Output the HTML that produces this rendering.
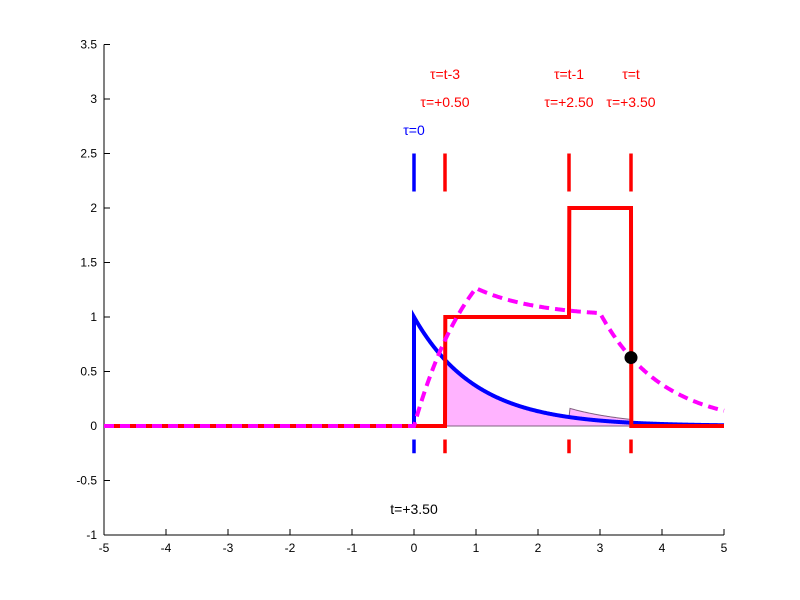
<!DOCTYPE html>
<html><head><meta charset="utf-8"><style>
body{margin:0;background:#fff}
svg{display:block;font-family:"Liberation Sans",sans-serif}
</style></head><body>
<svg id="chart" width="800" height="600" viewBox="0 0 800 600"></svg>
<script>
// data
const inputBreaks=[0,1,3];      // x(t) segment boundaries
const inputLevels=[2,1];        // x(t) values on each segment
const decayRate=[1];            // h(t)=exp(-a t), t>=0
const tNow=[3.5];
const xTicks=[-5,-4,-3,-2,-1,0,1,2,3,4,5];
const yTicks=[-1,-0.5,0,0.5,1,1.5,2,2.5,3,3.5];

const svg=document.getElementById('chart');
const NS='http://www.w3.org/2000/svg';
const X=v=>104+(v+5)*62, Y=v=>426-v*109;
function mk(tag,attrs,name){const e=document.createElementNS(NS,tag);for(const k in attrs)e.setAttribute(k,attrs[k]);


svg.appendChild(e);return e;}
const a=decayRate[0], t=tNow[0];
const h=v=>v<0?0:Math.exp(-a*v);
function xs(v){for(let i=0;i<inputLevels.length;i++)if(v>=inputBreaks[i]&&v<inputBreaks[i+1])return inputLevels[i];return 0;}
function conv(tt){let s=0,n=2000;if(tt<=0)return 0;const d=tt/n;for(let i=0;i<n;i++){const u=(i+0.5)*d;s+=h(u)*xs(tt-u)*d;}return s;}
const N=600;
// shaded product
let p='M'+X(-5)+','+Y(0);
for(let i=0;i<=N;i++){const u=-5+10*i/N;p+=' L'+X(u).toFixed(2)+','+Y(h(u)*xs(t-u)).toFixed(2);}
p+=' L'+X(5)+','+Y(0)+'Z';
mk('path',{d:p,fill:'#ffb3ff',stroke:'#806080','stroke-width':1},'product-area');
// axes
mk('line',{x1:104,y1:Y(-1),x2:104,y2:Y(3.5),stroke:'#000'},'y-axis');
mk('line',{x1:104,y1:Y(-1),x2:724,y2:Y(-1),stroke:'#000'},'x-axis');
xTicks.forEach(v=>{mk('line',{x1:X(v),y1:Y(-1),x2:X(v),y2:Y(-1)-6,stroke:'#000'},'x-tick');
const tx=mk('text',{x:X(v),y:Y(-1)+17,'text-anchor':'middle','font-size':12},'x-tick-label');tx.textContent=v;});
yTicks.forEach(v=>{mk('line',{x1:104,y1:Y(v),x2:110,y2:Y(v),stroke:'#000'},'y-tick');
const tx=mk('text',{x:97,y:Y(v)+4,'text-anchor':'end','font-size':12},'y-tick-label');tx.textContent=v;});
// markers
mk('line',{x1:X(0),y1:Y(2.5),x2:X(0),y2:Y(-0.25),stroke:'#00f','stroke-width':3.5,'stroke-dasharray':'38 248 14'},'tau-zero-marker');
[t-3,t-1,t].forEach(v=>mk('line',{x1:X(v),y1:Y(2.5),x2:X(v),y2:Y(-0.25),stroke:'#f00','stroke-width':3.5,'stroke-dasharray':'38 248 14'},'tau-marker'));
// h
let hp='M'+X(-5)+','+Y(0)+' L'+X(0)+','+Y(0);
for(let i=0;i<=N;i++){const u=5*i/N;hp+=' L'+X(u).toFixed(2)+','+Y(h(u)).toFixed(2);}
mk('path',{d:hp,fill:'none',stroke:'#00f','stroke-width':4},'impulse-response');
// flipped input
let r='';for(let i=0;i<=2000;i++){const u=-5+10*i/2000;r+=(i?' L':'M')+X(u).toFixed(2)+','+Y(xs(t-u)).toFixed(2);}
mk('path',{d:r,fill:'none',stroke:'#f00','stroke-width':4},'flipped-input');
// convolution output (drawn on top)
let c='';for(let i=0;i<=N;i++){const u=-5+10*i/N;c+=(i?' L':'M')+X(u).toFixed(2)+','+Y(conv(u)).toFixed(2);}
mk('path',{d:c,fill:'none',stroke:'#f0f','stroke-width':4,'stroke-dasharray':'10 6'},'output-curve');
mk('circle',{cx:X(t),cy:Y(conv(t)),r:6.5,fill:'#000'},'output-point');
function lab(x,y,s,col,name){const e=mk('text',{x:x,y:y,'text-anchor':'middle','font-size':14,fill:col},name);e.textContent=s;}
lab(X(0),135,'τ=0','#00f','tau-zero-label');
lab(X(t-3),79,'τ=t-3','#f00','tau-label');lab(X(t-3),107,'τ=+'+(t-3).toFixed(2),'#f00','tau-value');
lab(X(t-1),79,'τ=t-1','#f00','tau-label');lab(X(t-1),107,'τ=+'+(t-1).toFixed(2),'#f00','tau-value');
lab(X(t),79,'τ=t','#f00','tau-label');lab(X(t),107,'τ=+'+t.toFixed(2),'#f00','tau-value');
lab(X(0),514,'t=+'+t.toFixed(2),'#000','time-label');
</script>
</body></html>
